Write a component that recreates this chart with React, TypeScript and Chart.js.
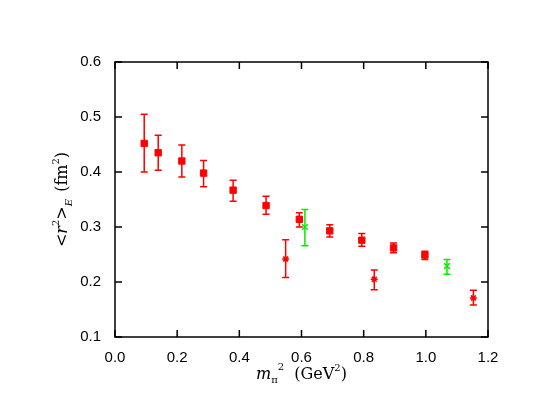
import React, { useEffect, useRef } from "react";
import { Chart, registerables } from "chart.js";

Chart.register(...registerables);

// Series 1: red filled squares
const sqX = [0.094, 0.139, 0.215, 0.285, 0.38, 0.486, 0.593, 0.691, 0.794, 0.896, 0.997];
const sqY = [0.452, 0.435, 0.42, 0.398, 0.367, 0.339, 0.314, 0.293, 0.276, 0.262, 0.249];
const sqHi = [0.505, 0.467, 0.449, 0.421, 0.385, 0.356, 0.326, 0.304, 0.288, 0.271, 0.256];
const sqLo = [0.4, 0.403, 0.391, 0.373, 0.347, 0.323, 0.3, 0.282, 0.265, 0.253, 0.241];

// Series 2: red stars
const stX = [0.549, 0.834, 1.153];
const stY = [0.242, 0.205, 0.171];
const stHi = [0.277, 0.222, 0.185];
const stLo = [0.208, 0.186, 0.158];

// Series 3: green crosses
const grX = [0.611, 1.068];
const grY = [0.3, 0.229];
const grHi = [0.332, 0.241];
const grLo = [0.266, 0.214];

const xTicks = [0, 0.2, 0.4, 0.6, 0.8, 1.0, 1.2];
const yTicks = [0.1, 0.2, 0.3, 0.4, 0.5, 0.6];

const RED = "#ff0000";
const GREEN = "#00ee00";

const pts = (xs: number[], ys: number[], hi: number[], lo: number[]) =>
  xs.map((x, i) => ({ x, y: ys[i], hi: hi[i], lo: lo[i] }));

const errorBars = {
  id: "errorBars",
  afterDatasetsDraw(chart: any) {
    const ctx = chart.ctx;
    const xs = chart.scales.x;
    const ys = chart.scales.y;
    chart.data.datasets.forEach((ds: any) => {
      ctx.save();
      ctx.strokeStyle = ds.borderColor;
      ctx.lineWidth = 1.5;
      ds.data.forEach((p: any) => {
        const px = xs.getPixelForValue(p.x);
        const pt = ys.getPixelForValue(p.hi);
        const pb = ys.getPixelForValue(p.lo);
        ctx.beginPath();
        ctx.moveTo(px, pt);
        ctx.lineTo(px, pb);
        ctx.moveTo(px - 3.5, pt);
        ctx.lineTo(px + 3.5, pt);
        ctx.moveTo(px - 3.5, pb);
        ctx.lineTo(px + 3.5, pb);
        ctx.stroke();
      });
      ctx.restore();
    });
  },
};

const frame = {
  id: "frame",
  afterDraw(chart: any) {
    const ctx = chart.ctx;
    const { left, right, top, bottom } = chart.chartArea;
    const xs = chart.scales.x;
    const ys = chart.scales.y;
    ctx.save();
    ctx.strokeStyle = "#000";
    ctx.lineWidth = 1.5;
    ctx.strokeRect(left, top, right - left, bottom - top);
    const tl = 7;
    ctx.beginPath();
    xTicks.forEach((v) => {
      const px = xs.getPixelForValue(v);
      ctx.moveTo(px, bottom);
      ctx.lineTo(px, bottom - tl);
      ctx.moveTo(px, top);
      ctx.lineTo(px, top + tl);
    });
    yTicks.forEach((v) => {
      const py = ys.getPixelForValue(v);
      ctx.moveTo(left, py);
      ctx.lineTo(left + tl, py);
      ctx.moveTo(right, py);
      ctx.lineTo(right - tl, py);
    });
    ctx.stroke();

    const serif = "'DejaVu Serif', serif";
    const F = 16;
    const S = 10;
    ctx.fillStyle = "#000";
    ctx.textBaseline = "alphabetic";

    // X title: m_pi^2 (GeV^2)
    const cx = (left + right) / 2;
    const by = 379;
    ctx.font = `italic ${F}px ${serif}`;
    const wm = ctx.measureText("m").width;
    ctx.font = `${S}px ${serif}`;
    const wpi = ctx.measureText("π").width;
    const w2 = ctx.measureText("2").width;
    ctx.font = `${F}px ${serif}`;
    const wg = ctx.measureText("  (GeV").width;
    const wp = ctx.measureText(")").width;
    const total = wm + wpi + w2 + wg + w2 + wp;
    let x = cx - total / 2;
    ctx.font = `italic ${F}px ${serif}`;
    ctx.fillText("m", x, by);
    x += wm;
    ctx.font = `${S}px ${serif}`;
    ctx.fillText("π", x, by + 4);
    ctx.fillText("2", x + wpi, by - 9);
    x += wpi + w2;
    ctx.font = `${F}px ${serif}`;
    ctx.fillText("  (GeV", x, by);
    x += wg;
    ctx.font = `${S}px ${serif}`;
    ctx.fillText("2", x, by - 8);
    x += w2;
    ctx.font = `${F}px ${serif}`;
    ctx.fillText(")", x, by);

    // Y title: <r^2>_E (fm^2), rotated
    ctx.save();
    ctx.translate(67, (top + bottom) / 2);
    ctx.rotate(-Math.PI / 2);
    ctx.font = `${F}px ${serif}`;
    const wlt = ctx.measureText("<").width;
    const wgt = ctx.measureText(">").width;
    const wfm = ctx.measureText(" (fm").width;
    const wcl = ctx.measureText(")").width;
    ctx.font = `italic ${F}px ${serif}`;
    const wr = ctx.measureText("r").width;
    ctx.font = `${S}px ${serif}`;
    const ws2 = ctx.measureText("2").width;
    ctx.font = `italic ${S}px ${serif}`;
    const wE = ctx.measureText("E").width;
    const tot2 = wlt + wr + ws2 + wgt + wE + 2 + wfm + ws2 + wcl;
    let yx = -tot2 / 2;
    ctx.font = `${F}px ${serif}`;
    ctx.fillText("<", yx, 0);
    yx += wlt;
    ctx.font = `italic ${F}px ${serif}`;
    ctx.fillText("r", yx, 0);
    yx += wr;
    ctx.font = `${S}px ${serif}`;
    ctx.fillText("2", yx, -8);
    yx += ws2;
    ctx.font = `${F}px ${serif}`;
    ctx.fillText(">", yx, 0);
    yx += wgt;
    ctx.font = `italic ${S}px ${serif}`;
    ctx.fillText("E", yx, 5);
    yx += wE + 2;
    ctx.font = `${F}px ${serif}`;
    ctx.fillText(" (fm", yx, 0);
    yx += wfm;
    ctx.font = `${S}px ${serif}`;
    ctx.fillText("2", yx, -8);
    yx += ws2;
    ctx.font = `${F}px ${serif}`;
    ctx.fillText(")", yx, 0);
    ctx.restore();

    ctx.restore();
  },
};

export default function App() {
  const ref = useRef<HTMLCanvasElement>(null);
  useEffect(() => {
    if (!ref.current) return;
    const chart = new Chart(ref.current, {
      type: "scatter",
      data: {
        datasets: [
          {
            data: pts(sqX, sqY, sqHi, sqLo) as any,
            pointStyle: "rect",
            pointRadius: 4.5,
            backgroundColor: RED,
            borderColor: RED,
            borderWidth: 1,
          },
          {
            data: pts(stX, stY, stHi, stLo) as any,
            pointStyle: "star",
            pointRadius: 3.5,
            backgroundColor: RED,
            borderColor: RED,
            borderWidth: 1.5,
          },
          {
            data: pts(grX, grY, grHi, grLo) as any,
            pointStyle: "crossRot",
            pointRadius: 4,
            backgroundColor: GREEN,
            borderColor: GREEN,
            borderWidth: 1.5,
          },
        ],
      },
      options: {
        animation: false,
        responsive: false,
        maintainAspectRatio: false,
        layout: { padding: { top: 62, right: 52, left: 0, bottom: 0 } },
        plugins: { legend: { display: false }, tooltip: { enabled: false } },
        scales: {
          x: {
            type: "linear",
            min: 0,
            max: 1.2,
            afterFit: (s: any) => {
              s.height = 80;
            },
            afterBuildTicks: (s: any) => {
              s.ticks = xTicks.map((v) => ({ value: v }));
            },
            grid: { display: false, drawTicks: false },
            border: { display: false },
            ticks: {
              padding: 12,
              color: "#000",
              font: { family: "'Liberation Sans', sans-serif", size: 15 },
              callback: (v: any) => Number(v).toFixed(1),
            },
          },
          y: {
            type: "linear",
            min: 0.1,
            max: 0.6,
            afterFit: (s: any) => {
              s.width = 115;
            },
            afterBuildTicks: (s: any) => {
              s.ticks = yTicks.map((v) => ({ value: v }));
            },
            grid: { display: false, drawTicks: false },
            border: { display: false },
            ticks: {
              padding: 14,
              color: "#000",
              font: { family: "'Liberation Sans', sans-serif", size: 15 },
              callback: (v: any) => Number(v).toFixed(1),
            },
          },
        },
      },
      plugins: [errorBars, frame],
    });
    return () => chart.destroy();
  }, []);
  return (
    <div style={{ position: "fixed", left: 0, top: 0, width: 540, height: 417, background: "#fff" }}>
      <canvas ref={ref} width={540} height={417} style={{ width: 540, height: 417 }} />
    </div>
  );
}
